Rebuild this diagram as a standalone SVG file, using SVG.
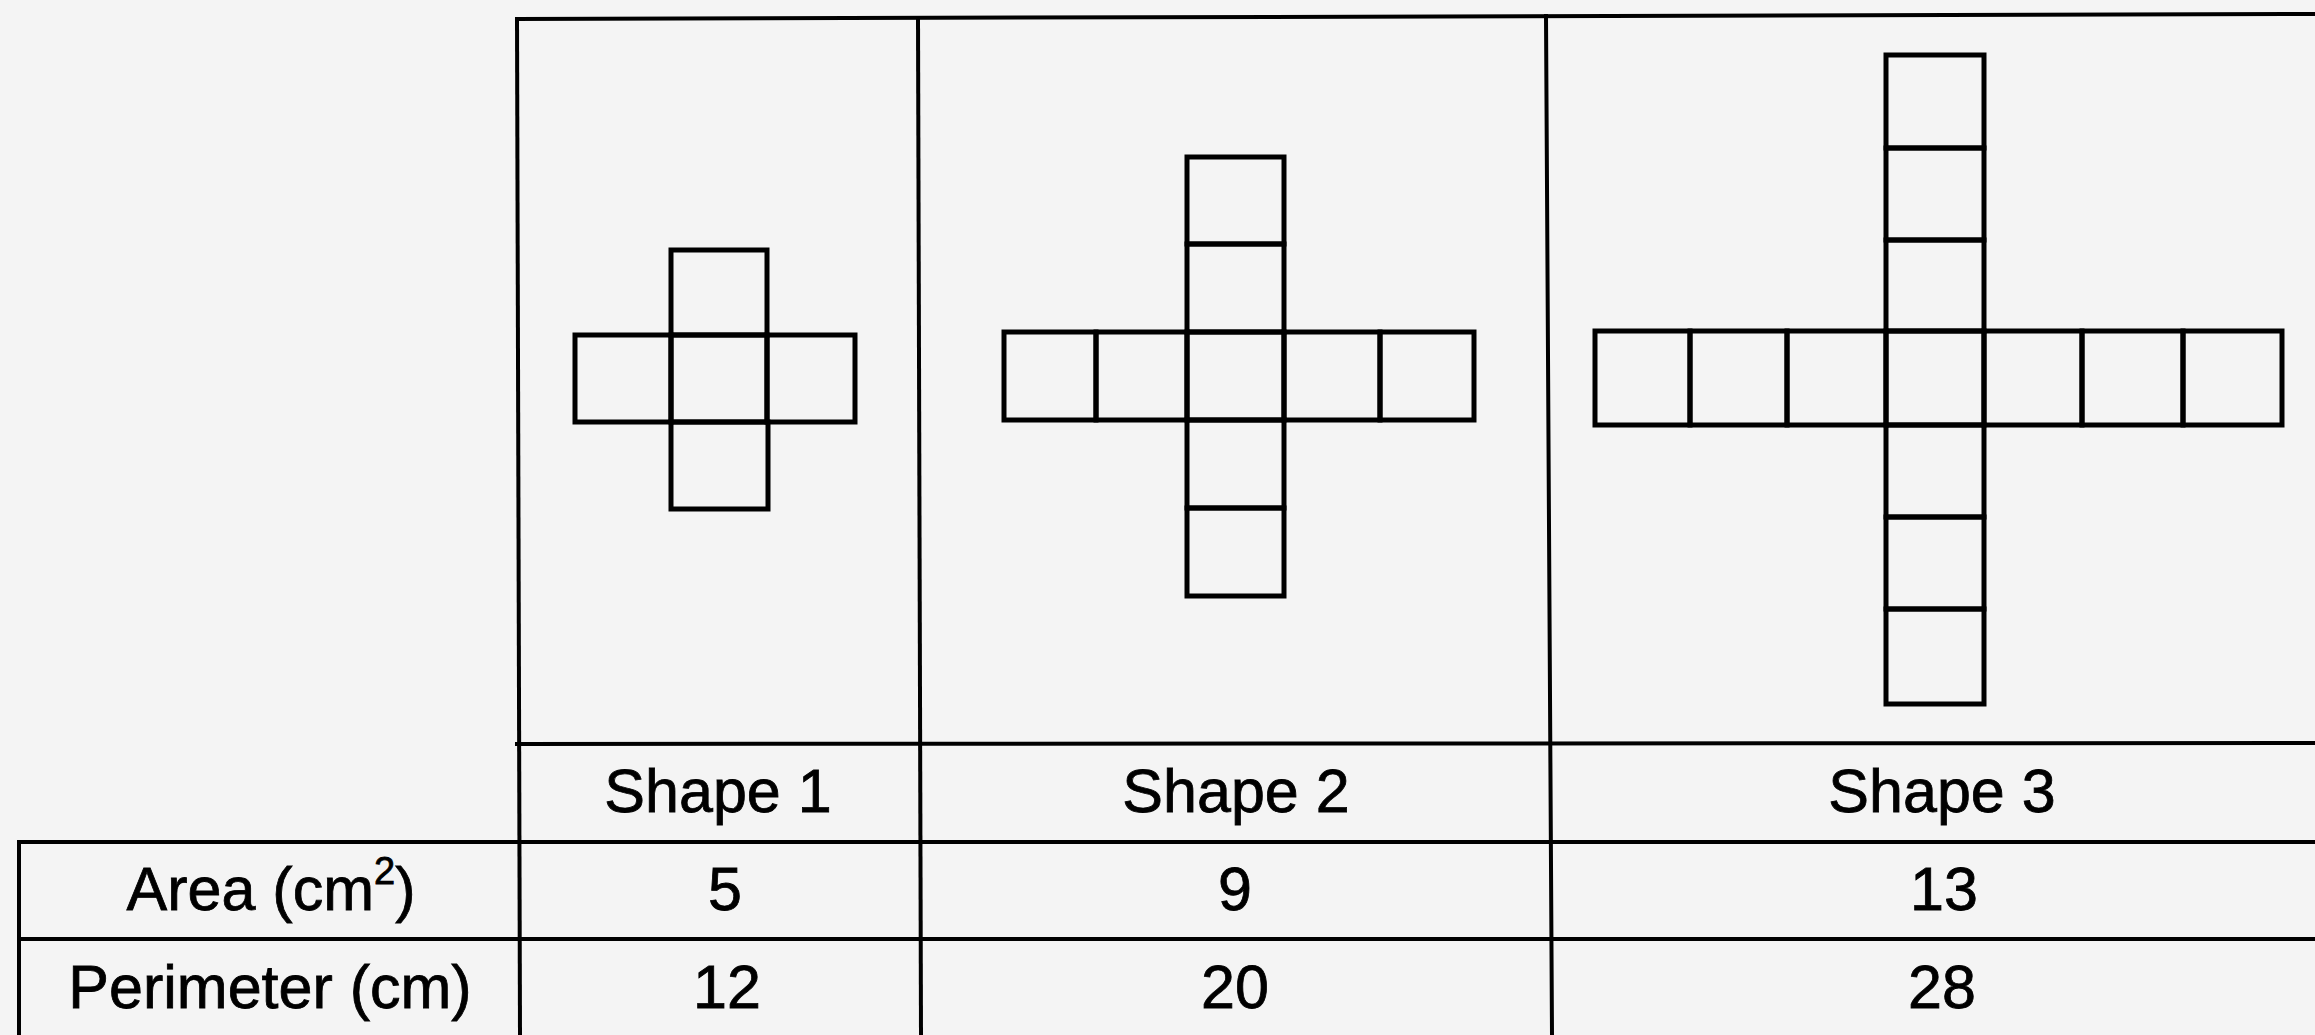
<svg xmlns="http://www.w3.org/2000/svg" width="2315" height="1035" viewBox="0 0 2315 1035">
<style>
.bg{fill:#f4f4f4}
.tl{stroke:#000;stroke-width:4;fill:none;stroke-linecap:square}
.sq{stroke:#000;stroke-width:5;fill:none;stroke-linejoin:miter}
.tx{font-family:"Liberation Sans",Arial,sans-serif;font-size:61px;fill:#000;stroke:#000;stroke-width:0.8;text-anchor:middle}
</style>
<rect class="bg" x="0" y="0" width="2315" height="1035"/>
<g id="table-lines">
<line class="tl" x1="517" y1="19" x2="2315" y2="14"/>
<line class="tl" x1="517" y1="19" x2="520" y2="1035"/>
<line class="tl" x1="918" y1="18" x2="921" y2="1035"/>
<line class="tl" x1="1546" y1="16" x2="1552" y2="1035"/>
<line class="tl" x1="517" y1="744" x2="2315" y2="743"/>
<line class="tl" x1="19" y1="842" x2="2315" y2="842" stroke-width="5"/>
<line class="tl" x1="19" y1="939" x2="2315" y2="939"/>
<line class="tl" x1="19" y1="842" x2="19" y2="1035"/>
</g>
<g id="shape1">
<rect class="sq" x="671" y="250" width="96" height="85"/>
<rect class="sq" x="575" y="335" width="96" height="87"/>
<rect class="sq" x="671" y="335" width="96" height="87"/>
<rect class="sq" x="767" y="335" width="88" height="87"/>
<rect class="sq" x="671" y="422" width="97" height="87"/>
</g>
<g id="shape2">
<rect class="sq" x="1187" y="157" width="97" height="87"/>
<rect class="sq" x="1187" y="244" width="97" height="88"/>
<rect class="sq" x="1004" y="332" width="92" height="88"/>
<rect class="sq" x="1096" y="332" width="91" height="88"/>
<rect class="sq" x="1187" y="332" width="97" height="88"/>
<rect class="sq" x="1284" y="332" width="96" height="88"/>
<rect class="sq" x="1380" y="332" width="94" height="88"/>
<rect class="sq" x="1187" y="420" width="97" height="88"/>
<rect class="sq" x="1187" y="508" width="97" height="88"/>
</g>
<g id="shape3">
<rect class="sq" x="1886" y="55" width="98" height="93"/>
<rect class="sq" x="1886" y="148" width="98" height="92"/>
<rect class="sq" x="1886" y="240" width="98" height="91"/>
<rect class="sq" x="1595" y="331" width="95" height="94"/>
<rect class="sq" x="1690" y="331" width="97" height="94"/>
<rect class="sq" x="1787" y="331" width="99" height="94"/>
<rect class="sq" x="1886" y="331" width="98" height="94"/>
<rect class="sq" x="1984" y="331" width="98" height="94"/>
<rect class="sq" x="2082" y="331" width="101" height="94"/>
<rect class="sq" x="2183" y="331" width="99" height="94"/>
<rect class="sq" x="1886" y="425" width="98" height="92"/>
<rect class="sq" x="1886" y="517" width="98" height="92"/>
<rect class="sq" x="1886" y="609" width="98" height="95"/>
</g>
<g id="headers">
<text class="tx" x="718" y="812">Shape 1</text>
<text class="tx" x="1236" y="812">Shape 2</text>
<text class="tx" x="1942" y="812">Shape 3</text>
</g>
<g id="row-area">
<text class="tx" x="271" y="910">Area (cm<tspan font-size="38" dy="-26">2</tspan><tspan dy="26">)</tspan></text>
<text class="tx" x="725" y="910">5</text>
<text class="tx" x="1235" y="910">9</text>
<text class="tx" x="1944" y="910">13</text>
</g>
<g id="row-perimeter">
<text class="tx" x="270" y="1008">Perimeter (cm)</text>
<text class="tx" x="727" y="1008">12</text>
<text class="tx" x="1235" y="1008">20</text>
<text class="tx" x="1942" y="1008">28</text>
</g>
</svg>
